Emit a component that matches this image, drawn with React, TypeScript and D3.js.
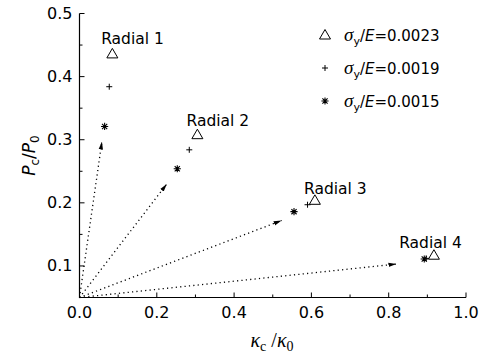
import React from 'react'
import * as d3 from 'd3'

const W = 481
const H = 356

// series (x = kappa_c/kappa_0, y = P_c/P_0)
const triX = [0.085, 0.305, 0.609, 0.917]
const triY = [0.436, 0.308, 0.204, 0.117]
const plusX = [0.077, 0.284, 0.590, 0.897]
const plusY = [0.384, 0.284, 0.197, 0.112]
const starX = [0.065, 0.253, 0.555, 0.892]
const starY = [0.321, 0.254, 0.186, 0.111]

// radial loading paths: arrow tips
const arrowX = [0.058, 0.226, 0.523, 0.82]
const arrowY = [0.297, 0.23, 0.172, 0.103]

const radialNames = ['Radial 1', 'Radial 2', 'Radial 3', 'Radial 4']
const radialLabelX = [0.056, 0.277, 0.581, 0.827]
const radialLabelY = [0.46, 0.331, 0.222, 0.137]

const legendLabels = ['0.0023', '0.0019', '0.0015']

const xTicks = [0, 0.2, 0.4, 0.6, 0.8, 1.0]
const xMinor = [0.1, 0.3, 0.5, 0.7, 0.9]
const yTicks = [0.1, 0.2, 0.3, 0.4, 0.5]
const yMinor = [0.05, 0.15, 0.25, 0.35, 0.45]

const margin = { top: 13.5, right: 15, bottom: 58.5, left: 79.5 }
const font = '"DejaVu Sans", sans-serif'
const serif = '"Liberation Serif", "DejaVu Serif", serif'

const Triangle = ({ x, y }: { x: number; y: number }) => (
  <path d={`M${x},${y - 5.5} L${x + 5.5},${y + 4} L${x - 5.5},${y + 4} Z`} fill="white" stroke="black" strokeWidth={1} />
)

const Plus = ({ x, y }: { x: number; y: number }) => (
  <path d={`M${x - 3},${y} H${x + 3} M${x},${y - 3} V${y + 3}`} stroke="black" strokeWidth={1} />
)

const Star = ({ x, y }: { x: number; y: number }) => {
  const r = 3.6
  const d = r * 0.72
  return (
    <path
      d={`M${x - r},${y} H${x + r} M${x},${y - r} V${y + r} M${x - d},${y - d} L${x + d},${y + d} M${x - d},${y + d} L${x + d},${y - d}`}
      stroke="black"
      strokeWidth={1.1}
    />
  )
}

export default function App() {
  const x = d3.scaleLinear().domain([0, 1]).range([margin.left, W - margin.right])
  const y = d3.scaleLinear().domain([0.05, 0.5]).range([H - margin.bottom, margin.top])
  const x0 = x(0)
  const y0 = y(0.05)

  return (
    <svg width={W} height={H} style={{ position: 'absolute', left: 0, top: 0, background: 'white' }} fontFamily={font}>
      <defs>
        <marker id="ah" viewBox="0 -3 8 6" refX={8} refY={0} markerWidth={8} markerHeight={6} markerUnits="userSpaceOnUse" orient="auto">
          <path d="M0,-2.2 L8,0 L0,2.2 Z" fill="black" />
        </marker>
      </defs>

      {/* dotted radial paths */}
      {arrowX.map((ax, i) => (
        <line
          key={'a' + i}
          x1={x0}
          y1={y0}
          x2={x(ax)}
          y2={y(arrowY[i])}
          stroke="black"
          strokeWidth={1.3}
          strokeDasharray="1.2,3.2"
          markerEnd="url(#ah)"
        />
      ))}

      {/* axes */}
      <line x1={x0} y1={y0} x2={x(1)} y2={y0} stroke="black" strokeWidth={1.2} />
      <line x1={x0} y1={y0} x2={x0} y2={y(0.5)} stroke="black" strokeWidth={1.2} />
      {xTicks.map(t => (
        <g key={'xt' + t}>
          <line x1={x(t)} x2={x(t)} y1={y0} y2={y0 - 5} stroke="black" />
          <text x={x(t)} y={y0 + 20} textAnchor="middle" fontSize={16}>{d3.format('.1f')(t)}</text>
        </g>
      ))}
      {xMinor.map(t => (
        <line key={'xm' + t} x1={x(t)} x2={x(t)} y1={y0} y2={y0 - 3} stroke="black" />
      ))}
      {yTicks.map(t => (
        <g key={'yt' + t}>
          <line x1={x0} x2={x0 + 5} y1={y(t)} y2={y(t)} stroke="black" />
          <text x={x0 - 7} y={y(t) + 5.5} textAnchor="end" fontSize={16}>{d3.format('.1f')(t)}</text>
        </g>
      ))}
      {yMinor.map(t => (
        <line key={'ym' + t} x1={x0} x2={x0 + 3} y1={y(t)} y2={y(t)} stroke="black" />
      ))}

      {/* axis titles */}
      <text transform={`translate(35,${(y0 + y(0.5)) / 2}) rotate(-90)`} textAnchor="middle" fontSize={17}>
        <tspan fontStyle="italic">P</tspan>
        <tspan fontSize={12} dy={4}>c</tspan>
        <tspan dy={-4}>/</tspan>
        <tspan fontStyle="italic">P</tspan>
        <tspan fontSize={12} dy={4}>0</tspan>
      </text>
      <text x={272} y={347} textAnchor="middle" fontSize={20} fontFamily={serif}>
        <tspan fontStyle="italic">κ</tspan>
        <tspan fontSize={14} dy={4}>c</tspan>
        <tspan dy={-4}> /</tspan>
        <tspan fontStyle="italic">κ</tspan>
        <tspan fontSize={14} dy={4}>0</tspan>
      </text>

      {/* markers */}
      {triX.map((v, i) => <Triangle key={'t' + i} x={x(v)} y={y(triY[i])} />)}
      {plusX.map((v, i) => <Plus key={'p' + i} x={x(v)} y={y(plusY[i])} />)}
      {starX.map((v, i) => <Star key={'s' + i} x={x(v)} y={y(starY[i])} />)}

      {/* radial labels */}
      {radialNames.map((n, i) => (
        <text key={n} x={x(radialLabelX[i])} y={y(radialLabelY[i]) + 5.5} fontSize={15.5}>{n}</text>
      ))}

      {/* legend */}
      {legendLabels.map((l, i) => {
        const ly = 35 + i * 33
        return (
          <g key={l}>
            {i === 0 && <Triangle x={325} y={ly} />}
            {i === 1 && <Plus x={325} y={ly} />}
            {i === 2 && <Star x={325} y={ly} />}
            <text x={344} y={ly + 5.5} fontSize={15}>
              <tspan fontStyle="italic" fontFamily={serif} fontSize={19}>σ</tspan>
              <tspan fontSize={11} dy={4}>y</tspan>
              <tspan dy={-4}>/</tspan>
              <tspan fontStyle="italic">E</tspan>
              <tspan>={l}</tspan>
            </text>
          </g>
        )
      })}
    </svg>
  )
}
